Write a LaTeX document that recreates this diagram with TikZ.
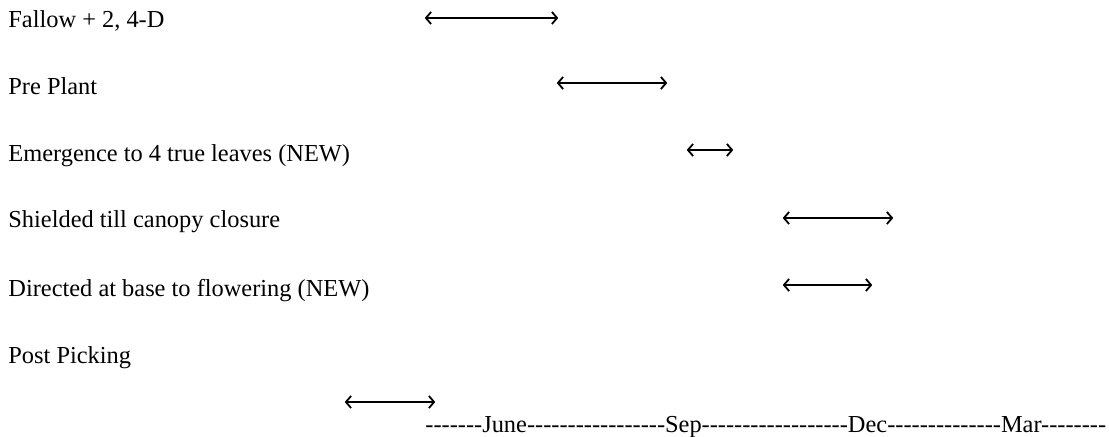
\documentclass[tikz,border=0pt]{standalone}
\usepackage{fontspec}
\setmainfont{Liberation Serif}[Ligatures=TeXOff]
\usepackage{tikz}
\usetikzlibrary{arrows.meta}

\begin{document}
\begin{tikzpicture}[x=0.5pt, y=-0.5pt,
    every node/.style={font=\fontsize{12.2}{14}\selectfont, inner sep=0pt},
    period/.style={{Straight Barb[length=2.6pt,width=6pt,line join=round]}-{Straight Barb[length=2.6pt,width=6pt,line join=round]}, line width=0.9pt}]
    \useasboundingbox (0,0) rectangle (1109,437);
    % treatments: name / label / baseline / arrow y / arrow from / arrow to
    \foreach \name/\txt/\yb/\ya/\xa/\xb in {
        fallow/{Fallow + 2, 4-D}/28/18/425/558,
        preplant/{Pre Plant}/95/83/557/667,
        emergence/{Emergence to 4 true leaves (NEW)}/162/150/687/733,
        shielded/{Shielded till canopy closure}/228/218/783/893,
        directed/{Directed at base to flowering (NEW)}/297/285/783/872,
        postpick/{Post Picking}/364/402/345/435} {
        \node[anchor=base west] (\name) at (8,\yb) {\txt};
        \coordinate (\name-s) at (\xa,\ya);
        \coordinate (\name-e) at (\xb,\ya);
        \draw[period] (\name-s) -- (\name-e);
    }
    \node[anchor=base west] (months) at (425,433)
        {-------June-----------------Sep------------------Dec--------------Mar--------};
\end{tikzpicture}
\end{document}
